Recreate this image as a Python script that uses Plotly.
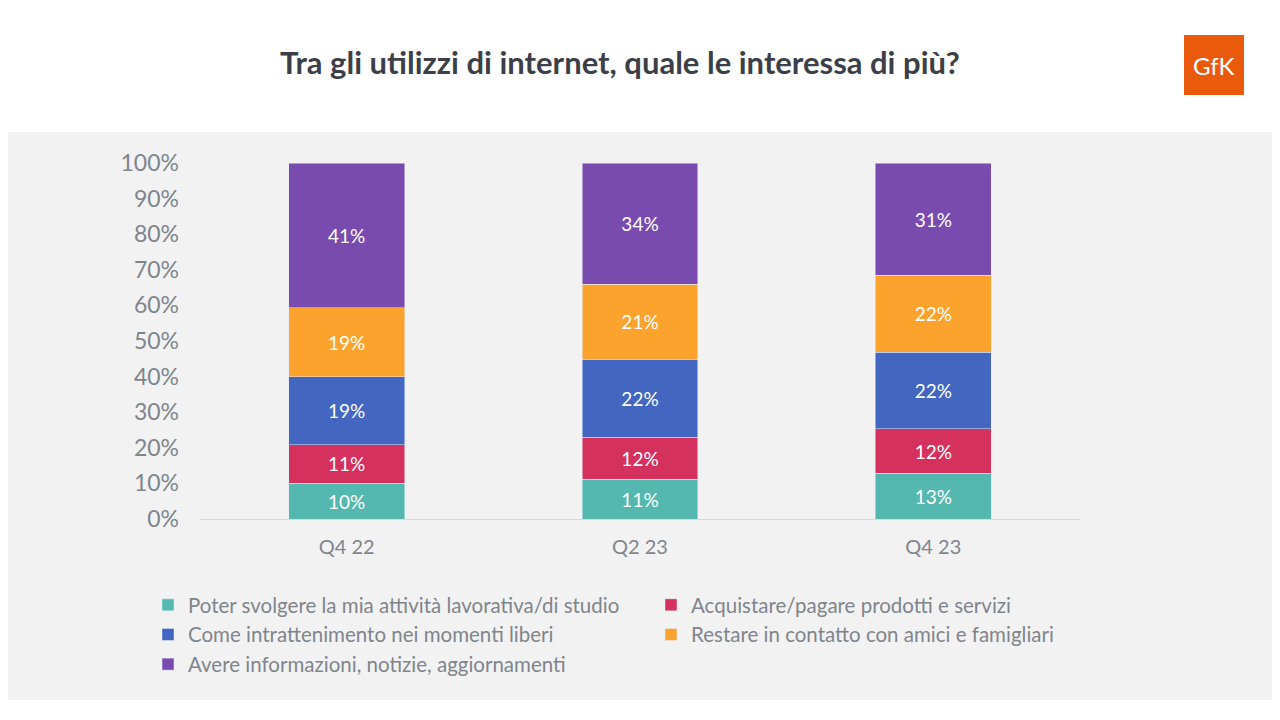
import plotly.graph_objects as go

categories = ["Q4 22", "Q2 23", "Q4 23"]
series_names = [
    "Poter svolgere la mia attività lavorativa/di studio",
    "Acquistare/pagare prodotti e servizi",
    "Come intrattenimento nei momenti liberi",
    "Restare in contatto con amici e famigliari",
    "Avere informazioni, notizie, aggiornamenti",
]
values = [
    [10.1, 11.2, 12.9],
    [10.7, 11.8, 12.4],
    [19.1, 21.9, 21.6],
    [19.4, 21.1, 21.6],
    [40.7, 34.0, 31.5],
]
labels = [
    ["10%", "11%", "13%"],
    ["11%", "12%", "12%"],
    ["19%", "22%", "22%"],
    ["19%", "21%", "22%"],
    ["41%", "34%", "31%"],
]
colors = ["#55b8b0", "#d4315f", "#4367c1", "#fca32d", "#7a4baf"]
tickvals = [0, 10, 20, 30, 40, 50, 60, 70, 80, 90, 100]
ticktext = [f"{v}%" for v in tickvals]

OFF = 8  # page body offset
L, R, T, B = 200 - OFF, 200 + OFF, 163 - OFF, 201 + OFF
PW, PH = 1280 - L - R, 720 - T - B
def xp(x): return (x - OFF - L) / PW
def yp(y): return (720 - B - (y - OFF)) / PH

fig = go.Figure()
for n, v, lab, c in zip(series_names, values, labels, colors):
    fig.add_bar(x=categories, y=v, name=n, marker_color=c, width=0.395,
                text=lab, textposition="inside", insidetextanchor="middle",
                textfont=dict(color="white", size=19, family="Lato"),
                hoverinfo="skip")

fig.update_layout(
    barmode="stack", width=1280, height=720,
    margin=dict(l=L, r=R, t=T, b=B),
    paper_bgcolor="white", plot_bgcolor="rgba(0,0,0,0)",
    font=dict(family="Lato", color="#7f858c"),
    showlegend=True,
    legend=dict(orientation="h", x=xp(148), y=yp(585), xanchor="left", yanchor="top",
                entrywidth=458, entrywidthmode="pixels", traceorder="normal",
                bgcolor="rgba(0,0,0,0)",
                font=dict(size=20.5, color="#7f858c"), itemwidth=30, tracegroupgap=0),
    xaxis=dict(range=[-0.5, 2.5], showgrid=False, showline=True, linecolor="#d9d9d9",
               tickfont=dict(size=20, color="#7f858c"), ticks="", ticklabelstandoff=10),
    yaxis=dict(range=[0, 100], tickvals=tickvals, ticktext=ticktext, showgrid=False,
               zeroline=False, tickfont=dict(size=23, color="#7f858c"), ticks="",
               ticklabelstandoff=20),
    shapes=[
        dict(type="rect", xref="paper", yref="paper", x0=xp(0), x1=xp(1290),
             y0=yp(700), y1=yp(132), fillcolor="#f2f2f2", line_width=0, layer="below"),
        dict(type="rect", xref="paper", yref="paper", x0=xp(1184), x1=xp(1244),
             y0=yp(95), y1=yp(35), fillcolor="#ea5a0c", line_width=0),
    ],
    annotations=[
        dict(text="<b>Tra gli utilizzi di internet, quale le interessa di più?</b>",
             xref="paper", yref="paper", x=xp(620), y=yp(62), yanchor="middle", showarrow=False,
             font=dict(size=31, color="#3c3f48", family="Lato")),
        dict(text="GfK", xref="paper", yref="paper", x=xp(1214), y=yp(66),
             xanchor="center", yanchor="middle", showarrow=False,
             font=dict(size=24, color="white", family="Lato")),
    ],
)
fig.write_html("out.html")
